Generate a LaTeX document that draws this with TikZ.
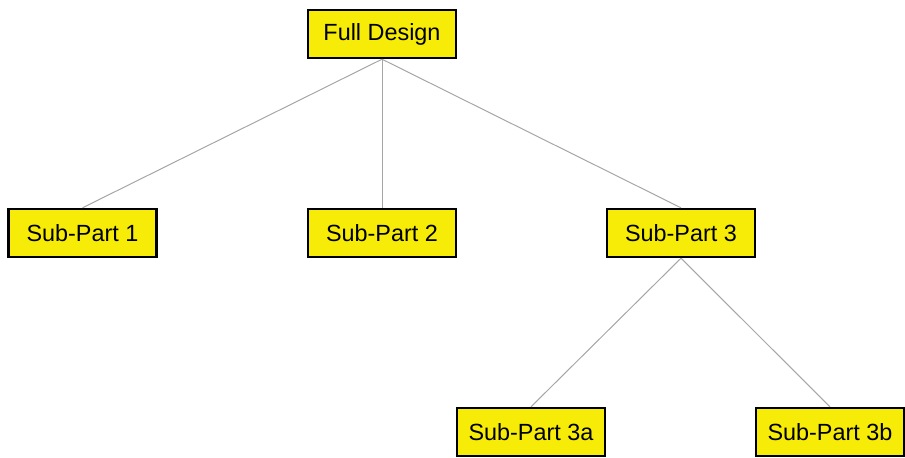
\documentclass[tikz,border=0pt]{standalone}
\usepackage{fontspec}
\setmainfont{Liberation Sans}
\usepackage{tikz}
\usetikzlibrary{positioning}
\definecolor{partyellow}{RGB}{246,236,8}

\begin{document}
\begin{tikzpicture}[x=0.5pt, y=-0.5pt,
  part/.style={draw=black, line width=1.2pt, fill=partyellow,
    minimum width=74pt, minimum height=24pt, inner sep=0pt,
    font=\fontsize{11.7}{14}\selectfont},
  link/.style={draw=gray!70, line width=0.5pt}]
\useasboundingbox (0,0) rectangle (905,457);
\clip (0,0) rectangle (905,457);

% Top level
\node[part] (full) at (382,34) {Full Design};

% Sub-parts
\node[part] (sub1) at (82.5,233) {Sub-Part 1};
\node[part] (sub2) at (382,233) {Sub-Part 2};
\node[part] (sub3) at (681,233) {Sub-Part 3};

% Sub-Part 3 children
\node[part] (sub3a) at (531,432) {Sub-Part 3a};
\node[part] (sub3b) at (830,432) {Sub-Part 3b};

\draw[link] (full.south) -- (sub1.north);
\draw[link] (full.south) -- (sub2.north);
\draw[link] (full.south) -- (sub3.north);
\draw[link] (sub3.south) -- (sub3a.north);
\draw[link] (sub3.south) -- (sub3b.north);
\end{tikzpicture}
\end{document}
